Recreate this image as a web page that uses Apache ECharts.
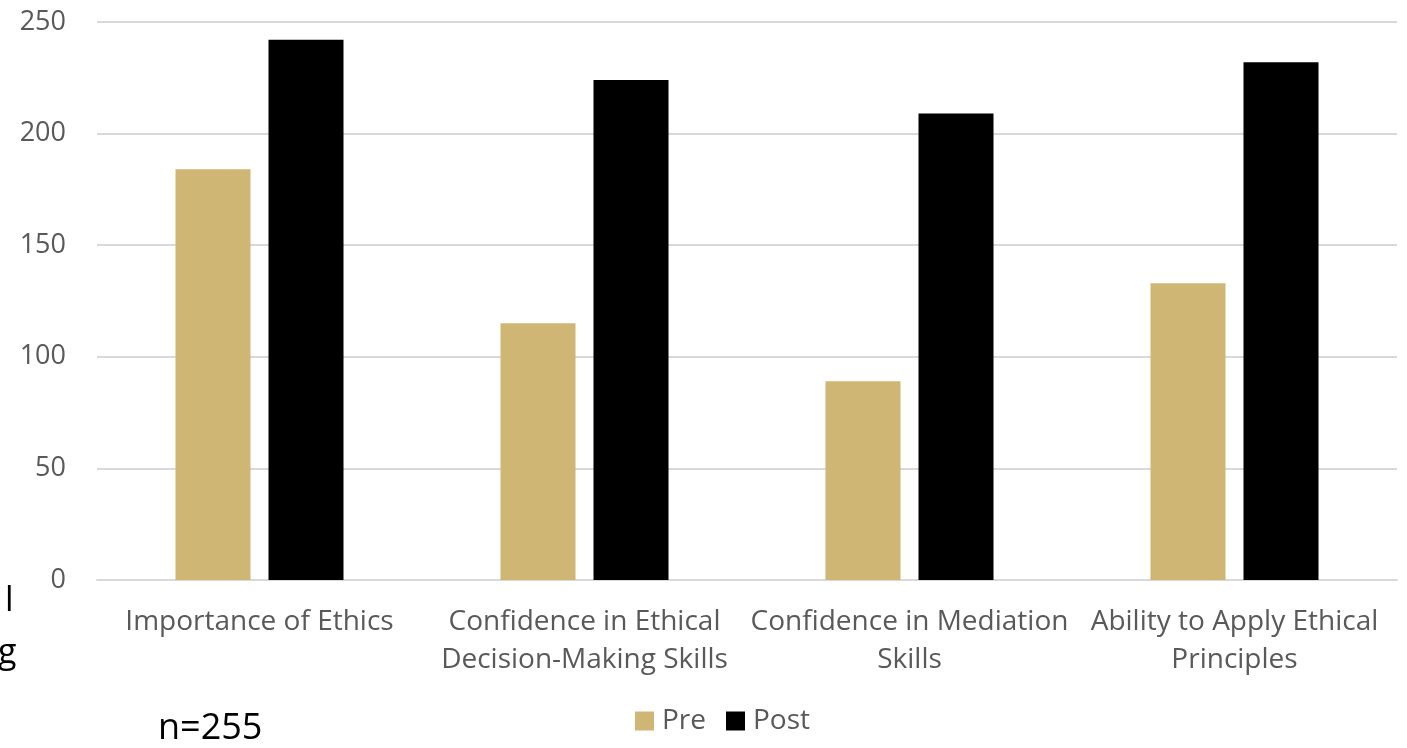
<!DOCTYPE html>
<html><head><meta charset="utf-8">
<script src="https://cdn.jsdelivr.net/npm/echarts@6/dist/echarts.min.js"></script>
<style>html,body{margin:0;padding:0;background:#fff}#c{width:1407px;height:748px}</style>
</head><body><div id="c"></div>
<script>
const categories = ["Importance of Ethics", "Confidence in Ethical\nDecision-Making Skills", "Confidence in Mediation\nSkills", "Ability to Apply Ethical\nPrinciples"];
const preValues = [184, 115, 89, 133];
const postValues = [242, 224, 209, 232];
const yTicks = {min: 0, max: 250, interval: 50};
const font = "'Open Sans', 'Noto Sans', sans-serif";
const chart = echarts.init(document.getElementById('c'));
chart.setOption({
  animation: false,
  grid: {left: 97, right: 10, top: 22, bottom: 168},
  legend: {
    top: 702, left: 630, itemWidth: 19, itemHeight: 19, itemGap: 20,
    icon: 'rect',
    textStyle: {color: '#595959', fontSize: 28, fontFamily: font, padding: [0, 0, 0, 3]},
    data: ['Pre', 'Post']
  },
  xAxis: {
    type: 'category', data: categories,
    axisLine: {lineStyle: {color: '#d9d9d9', width: 2}},
    axisTick: {show: false},
    axisLabel: {color: '#595959', fontSize: 28, fontFamily: font, lineHeight: 38, margin: 23, interval: 0}
  },
  yAxis: {
    type: 'value', min: yTicks.min, max: yTicks.max, interval: yTicks.interval,
    axisLine: {show: false}, axisTick: {show: false},
    splitLine: {lineStyle: {color: '#d9d9d9', width: 2}},
    axisLabel: {color: '#595959', fontSize: 27, fontFamily: font, margin: 31}
  },
  series: [
    {name: 'Pre', type: 'bar', data: preValues, barWidth: 75, barGap: '24%', itemStyle: {color: '#CFB675'}},
    {name: 'Post', type: 'bar', data: postValues, barWidth: 75, itemStyle: {color: '#000000'}}
  ],
  graphic: [
    {type: 'text', left: 5, top: 584, style: {text: 'l', fontSize: 34, fontFamily: font, fill: '#000'}},
    {type: 'text', left: -2, top: 636, style: {text: 'g', fontSize: 34, fontFamily: font, fill: '#000'}},
    {type: 'text', left: 158, top: 711, style: {text: 'n=255', fontSize: 36, fontFamily: font, fill: '#000'}}
  ]
});
</script></body></html>
